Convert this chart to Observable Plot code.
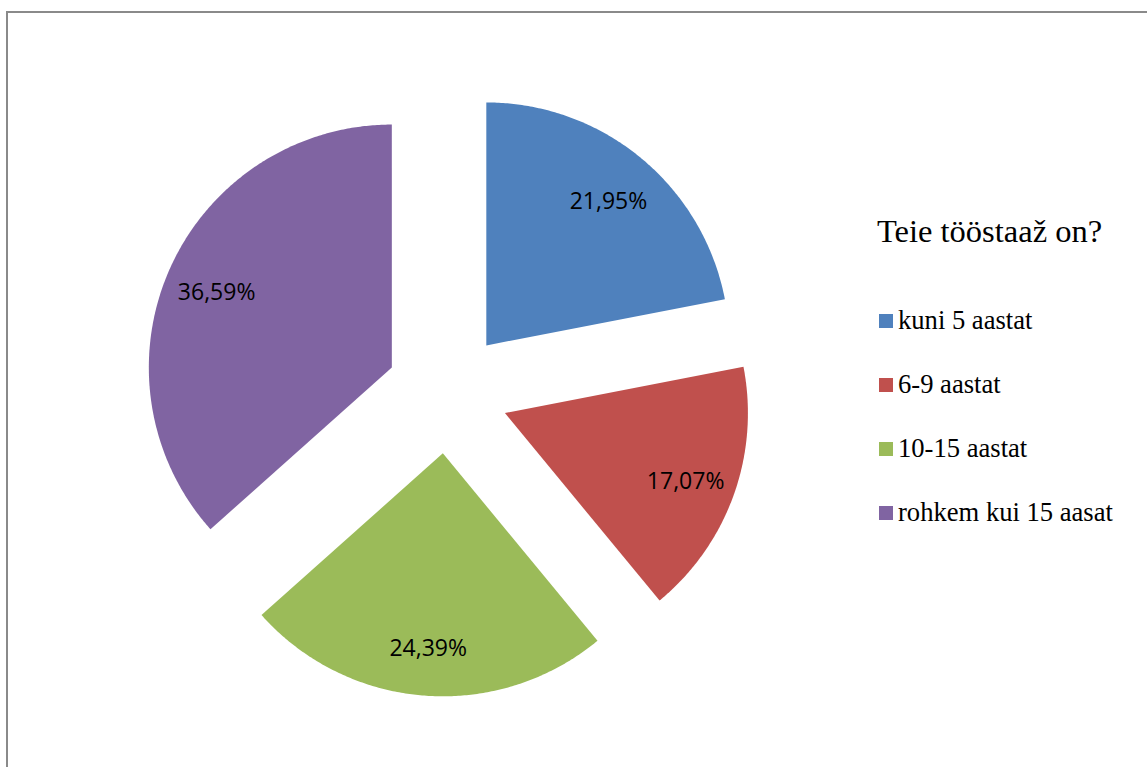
<!DOCTYPE html>
<html>
<head>
<meta charset="utf-8">
<script src="https://cdn.jsdelivr.net/npm/d3@7"></script>
<script src="https://cdn.jsdelivr.net/npm/@observablehq/plot@0.6"></script>
<style>
  html, body { margin: 0; padding: 0; background: #fff; }
  #wrap { position: relative; width: 1147px; height: 767px; overflow: hidden; }
  #frame { position: absolute; left: 6px; top: 11px; width: 1200px; height: 800px;
           border-left: 2px solid #8a8a8a; border-top: 2px solid #8a8a8a; box-sizing: border-box; }
  #chart { position: absolute; left: 0; top: 0; }
  #legend, #legend div { font-family: "Liberation Serif", "Times New Roman", serif; color: #000; }
  #legend { position: absolute; left: 0; top: 0; }
  .ltitle { position: absolute; left: 877px; top: 215px; font-size: 32.5px; line-height: 1; white-space: nowrap; }
  .litem { position: absolute; left: 879px; font-size: 26.6px; line-height: 1; white-space: nowrap; }
  .litem .sw { position: absolute; left: 0; top: 7px; width: 14px; height: 14px; }
  .litem .tx { position: absolute; left: 19px; top: 0; }
</style>
</head>
<body>
<div id="wrap">
  <div id="frame"></div>
  <div id="chart"></div>
  <div id="legend"></div>
</div>
<script>
// ---- data ----
const legendTitle = "Teie tööstaaž on?";
const categories = ["kuni 5 aastat", "6-9 aastat", "10-15 aastat", "rohkem kui 15 aasat"];
const values = [21.95, 17.07, 24.39, 36.59];
const labels = ["21,95%", "17,07%", "24,39%", "36,59%"];
const colors = ["#4F81BD", "#C0504D", "#9BBB59", "#8064A2"];

// ---- layout ----
const W = 1147, H = 767;
const cx = 447, cy = 392, R = 243, explode = 61, labelR = 192;

const total = d3.sum(values);
let acc = 0;
const slices = values.map((v, i) => {
  const a0 = acc / total * 2 * Math.PI;
  acc += v;
  const a1 = acc / total * 2 * Math.PI;
  const mid = (a0 + a1) / 2;
  const tx = cx + explode * Math.sin(mid);
  const ty = cy - explode * Math.cos(mid);
  const pts = [{x: tx, y: ty}];
  const n = Math.max(8, Math.ceil((a1 - a0) / (Math.PI / 360)));
  for (let k = 0; k <= n; k++) {
    const a = a0 + (a1 - a0) * k / n;
    pts.push({x: tx + R * Math.sin(a), y: ty - R * Math.cos(a)});
  }
  pts.push({x: tx, y: ty});
  return {cat: categories[i], color: colors[i], label: labels[i], pts,
          lx: tx + labelR * Math.sin(mid), ly: ty - labelR * Math.cos(mid)};
});

const chart = Plot.plot({
  width: W, height: H,
  margin: 0,
  x: {domain: [0, W], axis: null},
  y: {domain: [H, 0], axis: null},
  style: {background: "transparent"},
  marks: [
    ...slices.map(s => Plot.line(s.pts, {x: "x", y: "y", fill: s.color, stroke: "none", curve: "linear"})),
    Plot.text(slices, {x: "lx", y: "ly", text: "label", fill: "#000", dy: 4,
      fontFamily: "'Open Sans', sans-serif", fontSize: 23, textAnchor: "middle"})
  ]
});
document.getElementById("chart").appendChild(chart);

// ---- legend ----
const lg = document.getElementById("legend");
const t = document.createElement("div");
t.className = "ltitle";
t.textContent = legendTitle;
lg.appendChild(t);
categories.forEach((c, i) => {
  const row = document.createElement("div");
  row.className = "litem";
  row.style.top = (307 + i * 64) + "px";
  const sw = document.createElement("div");
  sw.className = "sw";
  sw.style.background = colors[i];
  const tx = document.createElement("div");
  tx.className = "tx";
  tx.textContent = c;
  row.appendChild(sw);
  row.appendChild(tx);
  lg.appendChild(row);
});
</script>
</body>
</html>
